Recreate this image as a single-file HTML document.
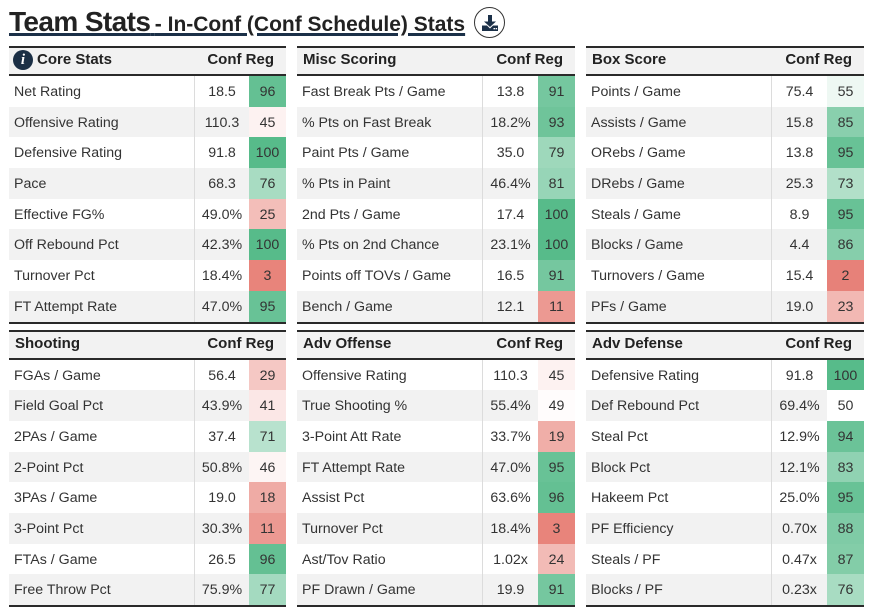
<!DOCTYPE html>
<html><head><meta charset="utf-8">
<style>
*{box-sizing:border-box;}
body{margin:0;width:872px;height:610px;background:#fff;position:relative;overflow:hidden;font-family:"Liberation Sans",Arial,sans-serif;color:#333;}
.title{position:absolute;left:9px;top:6px;white-space:nowrap;line-height:32px;color:#222;font-weight:bold;text-decoration:underline;text-decoration-color:#1b3048;text-decoration-thickness:3px;text-underline-offset:2px;}
.title .big{font-size:28px;letter-spacing:-0.6px;}
.title .small{font-size:21px;}
.dl{position:absolute;left:474px;top:7px;width:31px;height:31px;border:1.3px solid #333;border-radius:50%;}
.dl svg{position:absolute;left:6px;top:6px;}
.t{position:absolute;border-top:2px solid #2a2a2a;border-bottom:2px solid #2a2a2a;}
.h{height:28px;line-height:23.5px;background:#f2f2f2;border-bottom:2px solid #2a2a2a;font-weight:bold;font-size:15px;color:#222;position:relative;}
.h .l{position:absolute;left:6px;top:0;}
.h .r{position:absolute;right:12px;top:0;}
.info{position:absolute;left:4px;top:2px;width:20px;height:20px;border-radius:50%;background:#1b2f45;color:#fff;font-family:"Liberation Serif",serif;font-style:italic;font-weight:bold;font-size:15px;line-height:20px;text-align:center;}
.b{position:relative;}
.b::before{content:"";position:absolute;left:185px;top:0;bottom:0;width:1px;background:#dcdcdc;z-index:2;}
.row{height:30.7px;position:relative;font-size:14.2px;line-height:32.5px;white-space:nowrap;}
.row:nth-child(even){background:#f2f2f2;}
.row .l{position:absolute;left:5px;top:0;}
.row .v{position:absolute;left:186px;right:37px;top:0;text-align:center;}
.row .c{position:absolute;right:0;width:37px;top:0;height:30.7px;text-align:center;}
</style></head><body>

<div class="title"><span class="big">Team Stats</span> <span class="small">- In-Conf (Conf Schedule) Stats</span></div>
<div class="dl"><svg width="18" height="18" viewBox="0 0 18 18"><rect x="7" y="1" width="4" height="7" fill="#1b3048"/><polygon points="3,7.5 15,7.5 9,13" fill="#1b3048"/><path d="M1 11.5 H6 L9 14.5 L12 11.5 H17 V17 H1 Z" fill="#1b3048"/><rect x="12.5" y="14" width="1.5" height="1.3" fill="#fff"/><rect x="14.6" y="14" width="1.5" height="1.3" fill="#fff"/></svg></div>

<!-- Core Stats -->
<div class="t" style="left:9px;top:46px;width:277px;">
<div class="h"><div class="info">i</div><span class="l" style="left:28px;">Core Stats</span><span class="r">Conf Reg</span></div>
<div class="b">
<div class="row"><span class="l">Net Rating</span><span class="v">18.5</span><span class="c" style="background:#64c093">96</span></div>
<div class="row"><span class="l">Offensive Rating</span><span class="v">110.3</span><span class="c" style="background:#fdf2f1">45</span></div>
<div class="row"><span class="l">Defensive Rating</span><span class="v">91.8</span><span class="c" style="background:#57bb8a">100</span></div>
<div class="row"><span class="l">Pace</span><span class="v">68.3</span><span class="c" style="background:#a8dcc2">76</span></div>
<div class="row"><span class="l">Effective FG%</span><span class="v">49.0%</span><span class="c" style="background:#f3beb9">25</span></div>
<div class="row"><span class="l">Off Rebound Pct</span><span class="v">42.3%</span><span class="c" style="background:#57bb8a">100</span></div>
<div class="row"><span class="l">Turnover Pct</span><span class="v">18.4%</span><span class="c" style="background:#e8847b">3</span></div>
<div class="row"><span class="l">FT Attempt Rate</span><span class="v">47.0%</span><span class="c" style="background:#68c296">95</span></div>
</div></div>

<!-- Misc Scoring -->
<div class="t" style="left:297px;top:46px;width:278px;">
<div class="h"><span class="l">Misc Scoring</span><span class="r">Conf Reg</span></div>
<div class="b">
<div class="row"><span class="l">Fast Break Pts / Game</span><span class="v">13.8</span><span class="c" style="background:#75c79f">91</span></div>
<div class="row"><span class="l">% Pts on Fast Break</span><span class="v">18.2%</span><span class="c" style="background:#6fc49a">93</span></div>
<div class="row"><span class="l">Paint Pts / Game</span><span class="v">35.0</span><span class="c" style="background:#9ed8bb">79</span></div>
<div class="row"><span class="l">% Pts in Paint</span><span class="v">46.4%</span><span class="c" style="background:#97d5b7">81</span></div>
<div class="row"><span class="l">2nd Pts / Game</span><span class="v">17.4</span><span class="c" style="background:#57bb8a">100</span></div>
<div class="row"><span class="l">% Pts on 2nd Chance</span><span class="v">23.1%</span><span class="c" style="background:#57bb8a">100</span></div>
<div class="row"><span class="l">Points off TOVs / Game</span><span class="v">16.5</span><span class="c" style="background:#75c79f">91</span></div>
<div class="row"><span class="l">Bench / Game</span><span class="v">12.1</span><span class="c" style="background:#ec9992">11</span></div>
</div></div>

<!-- Box Score -->
<div class="t" style="left:586px;top:46px;width:278px;">
<div class="h"><span class="l">Box Score</span><span class="r">Conf Reg</span></div>
<div class="b">
<div class="row"><span class="l">Points / Game</span><span class="v">75.4</span><span class="c" style="background:#eef8f3">55</span></div>
<div class="row"><span class="l">Assists / Game</span><span class="v">15.8</span><span class="c" style="background:#89cfad">85</span></div>
<div class="row"><span class="l">ORebs / Game</span><span class="v">13.8</span><span class="c" style="background:#68c296">95</span></div>
<div class="row"><span class="l">DRebs / Game</span><span class="v">25.3</span><span class="c" style="background:#b2e0c9">73</span></div>
<div class="row"><span class="l">Steals / Game</span><span class="v">8.9</span><span class="c" style="background:#68c296">95</span></div>
<div class="row"><span class="l">Blocks / Game</span><span class="v">4.4</span><span class="c" style="background:#86ceab">86</span></div>
<div class="row"><span class="l">Turnovers / Game</span><span class="v">15.4</span><span class="c" style="background:#e78179">2</span></div>
<div class="row"><span class="l">PFs / Game</span><span class="v">19.0</span><span class="c" style="background:#f2b8b3">23</span></div>
</div></div>

<!-- Shooting -->
<div class="t" style="left:9px;top:329.5px;width:277px;">
<div class="h"><span class="l">Shooting</span><span class="r">Conf Reg</span></div>
<div class="b">
<div class="row"><span class="l">FGAs / Game</span><span class="v">56.4</span><span class="c" style="background:#f5c8c4">29</span></div>
<div class="row"><span class="l">Field Goal Pct</span><span class="v">43.9%</span><span class="c" style="background:#fbe7e6">41</span></div>
<div class="row"><span class="l">2PAs / Game</span><span class="v">37.4</span><span class="c" style="background:#b8e2ce">71</span></div>
<div class="row"><span class="l">2-Point Pct</span><span class="v">50.8%</span><span class="c" style="background:#fdf5f4">46</span></div>
<div class="row"><span class="l">3PAs / Game</span><span class="v">19.0</span><span class="c" style="background:#efaba5">18</span></div>
<div class="row"><span class="l">3-Point Pct</span><span class="v">30.3%</span><span class="c" style="background:#ec9992">11</span></div>
<div class="row"><span class="l">FTAs / Game</span><span class="v">26.5</span><span class="c" style="background:#64c093">96</span></div>
<div class="row"><span class="l">Free Throw Pct</span><span class="v">75.9%</span><span class="c" style="background:#a4dac0">77</span></div>
</div></div>

<!-- Adv Offense -->
<div class="t" style="left:297px;top:329.5px;width:278px;">
<div class="h"><span class="l">Adv Offense</span><span class="r">Conf Reg</span></div>
<div class="b">
<div class="row"><span class="l">Offensive Rating</span><span class="v">110.3</span><span class="c" style="background:#fdf2f1">45</span></div>
<div class="row"><span class="l">True Shooting %</span><span class="v">55.4%</span><span class="c" style="background:#fffcfc">49</span></div>
<div class="row"><span class="l">3-Point Att Rate</span><span class="v">33.7%</span><span class="c" style="background:#f0aea8">19</span></div>
<div class="row"><span class="l">FT Attempt Rate</span><span class="v">47.0%</span><span class="c" style="background:#68c296">95</span></div>
<div class="row"><span class="l">Assist Pct</span><span class="v">63.6%</span><span class="c" style="background:#64c093">96</span></div>
<div class="row"><span class="l">Turnover Pct</span><span class="v">18.4%</span><span class="c" style="background:#e8847b">3</span></div>
<div class="row"><span class="l">Ast/Tov Ratio</span><span class="v">1.02x</span><span class="c" style="background:#f2bbb6">24</span></div>
<div class="row"><span class="l">PF Drawn / Game</span><span class="v">19.9</span><span class="c" style="background:#75c79f">91</span></div>
</div></div>

<!-- Adv Defense -->
<div class="t" style="left:586px;top:329.5px;width:278px;">
<div class="h"><span class="l">Adv Defense</span><span class="r">Conf Reg</span></div>
<div class="b">
<div class="row"><span class="l">Defensive Rating</span><span class="v">91.8</span><span class="c" style="background:#57bb8a">100</span></div>
<div class="row"><span class="l">Def Rebound Pct</span><span class="v">69.4%</span><span class="c" style="background:#ffffff">50</span></div>
<div class="row"><span class="l">Steal Pct</span><span class="v">12.9%</span><span class="c" style="background:#6bc398">94</span></div>
<div class="row"><span class="l">Block Pct</span><span class="v">12.1%</span><span class="c" style="background:#90d2b2">83</span></div>
<div class="row"><span class="l">Hakeem Pct</span><span class="v">25.0%</span><span class="c" style="background:#68c296">95</span></div>
<div class="row"><span class="l">PF Efficiency</span><span class="v">0.70x</span><span class="c" style="background:#7fcba6">88</span></div>
<div class="row"><span class="l">Steals / PF</span><span class="v">0.47x</span><span class="c" style="background:#83cda8">87</span></div>
<div class="row"><span class="l">Blocks / PF</span><span class="v">0.23x</span><span class="c" style="background:#a8dcc2">76</span></div>
</div></div>

</body></html>
